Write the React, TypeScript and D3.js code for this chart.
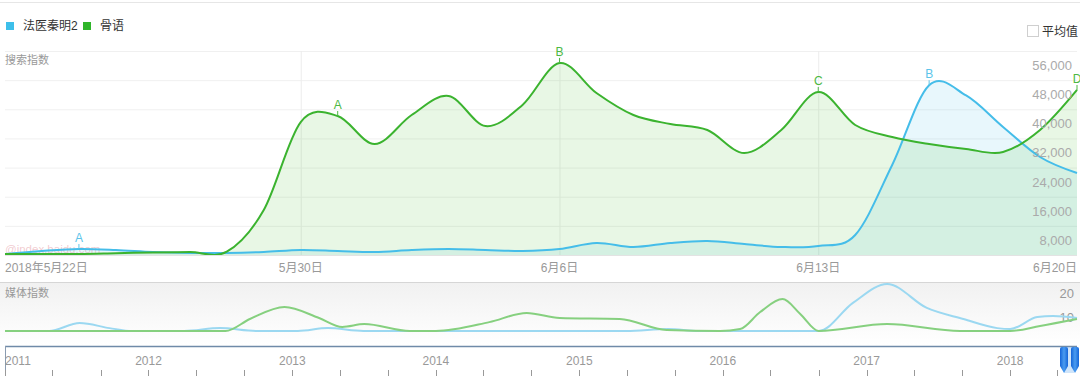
import React from 'react';
import * as d3 from 'd3';

// ---------- data ----------
const seriesNames = ['法医秦明2', '骨语'];
const dates = [
  '2018-05-22', '2018-05-23', '2018-05-24', '2018-05-25', '2018-05-26', '2018-05-27', '2018-05-28', '2018-05-29',
  '2018-05-30', '2018-05-31', '2018-06-01', '2018-06-02', '2018-06-03', '2018-06-04', '2018-06-05', '2018-06-06',
  '2018-06-07', '2018-06-08', '2018-06-09', '2018-06-10', '2018-06-11', '2018-06-12', '2018-06-13', '2018-06-14',
  '2018-06-15', '2018-06-16', '2018-06-17', '2018-06-18', '2018-06-19', '2018-06-20',
];
const searchBlue = [270, 1100, 1650, 1370, 820, 550, 550, 820, 1370, 1100, 820, 1370, 1650, 1370, 1100, 1650,
  3300, 2200, 3300, 3840, 3020, 2200, 2470, 5490, 24700, 46600, 43800, 35140, 26900, 22500];
const searchGreen = [300, 300, 300, 500, 700, 800, 900, 12350, 36500, 38150, 30470, 38430, 43650, 35400, 41200, 52700,
  44470, 38430, 35960, 34310, 28000, 34310, 44740, 35690, 32400, 30470, 29100, 28270, 34310, 45300];
const blueMarkers = [{ idx: 2, label: 'A' }, { idx: 25, label: 'B' }];
const greenMarkers = [{ idx: 9, label: 'A' }, { idx: 15, label: 'B' }, { idx: 22, label: 'C' }, { idx: 29, label: 'D' }];
const yTicks = [8000, 16000, 24000, 32000, 40000, 48000, 56000];
const xTickIdx = [0, 8, 15, 22, 29];
const xTickLabels = ['2018年5月22日', '5月30日', '6月6日', '6月13日', '6月20日'];

const mediaGreenDates = ['2011-01-01', '2011-07-01', '2012-01-01', '2012-07-15', '2012-09-15', '2012-12-12', '2013-03-10',
  '2013-05-08', '2013-07-03', '2013-10-27', '2014-01-01', '2014-05-17', '2014-08-20', '2014-11-12', '2015-04-14',
  '2015-08-11', '2015-12-25', '2016-02-14', '2016-04-05', '2016-06-01', '2016-07-16', '2016-09-01', '2017-02-22',
  '2017-08-27', '2018-01-01', '2018-03-18', '2018-06-20'];
const mediaGreen = [0, 0, 0, 0, 5, 10, 5.4, 1.7, 2.9, 0, 0, 3.7, 7.5, 5.4, 5, 0.4, 0, 0.8, 7.9, 13.3, 7.1, 0, 2.9, 0, 0, 2.1, 5];
const mediaBlueDates = ['2011-01-01', '2011-04-23', '2011-07-10', '2011-09-24', '2011-11-21', '2012-04-01', '2012-07-01',
  '2012-10-01', '2013-01-15', '2013-04-01', '2013-07-01', '2015-05-01', '2015-08-15', '2015-11-01', '2016-09-01',
  '2016-11-27', '2017-02-22', '2017-06-03', '2017-09-04', '2017-11-29', '2018-01-01', '2018-03-11', '2018-04-20',
  '2018-06-20'];
const mediaBlue = [0, 0, 3.3, 1.2, 0, 0, 1.2, 0, 0, 1.2, 0, 0, 0.8, 0, 0, 11.7, 19.6, 9.6, 5, 1.2, 0.8, 5.8, 6.2, 5.4];
const mediaTicks = [10, 20];
const timelineStart = '2011-01-01';
const timelineEnd = '2018-06-20';

// ---------- styles ----------
const FONT = "'Liberation Sans', Arial, 'Noto Sans CJK SC', sans-serif";
const BLUE = '#45bde9';
const GREEN = '#3bb32f';

export default function App() {
  const parse = d3.timeParse('%Y-%m-%d');
  const x = d3.scaleLinear().domain([0, dates.length - 1]).range([5, 1077]);
  const y = d3.scaleLinear().domain([0, 56000]).range([255, 51]);

  const line = d3.line<number>().x((_, i) => x(i)).y((d) => y(d)).curve(d3.curveCardinal.tension(0));
  const area = d3.area<number>().x((_, i) => x(i)).y0(255).y1((d) => y(d)).curve(d3.curveCardinal.tension(0));

  const tx = d3.scaleTime().domain([parse(timelineStart)!, parse(timelineEnd)!]).range([5, 1077]);
  const my = d3.scaleLinear().domain([0, 20]).range([331, 283]);
  const mline = d3.line<[Date, number]>().x((d) => tx(d[0])).y((d) => my(d[1])).curve(d3.curveMonotoneX);
  const mg: [Date, number][] = mediaGreenDates.map((d, i) => [parse(d)!, mediaGreen[i]]);
  const mb: [Date, number][] = mediaBlueDates.map((d, i) => [parse(d)!, mediaBlue[i]]);

  const years = d3.timeYear.range(parse('2011-01-01')!, parse(timelineEnd)!);
  const minor = d3.timeMonth.every(4)!.range(parse('2011-01-01')!, parse(timelineEnd)!);

  const marker = (arr: number[], m: { idx: number; label: string }, color: string, key: string) => {
    const px = x(m.idx);
    const py = y(arr[m.idx]);
    return (
      <g key={key}>
        <line x1={px} x2={px} y1={py} y2={py - 5} stroke={color} strokeWidth={1} />
        <text x={px} y={py - 7} textAnchor="middle" fontSize={12} fill={color} fontFamily={FONT}>{m.label}</text>
      </g>
    );
  };

  return (
    <svg width={1080} height={376} style={{ position: 'absolute', left: 0, top: 0, background: '#fff' }}>
      <defs>
        <clipPath id="plot"><rect x={5} y={40} width={1075} height={215} /></clipPath>
        <linearGradient id="mediaBg" x1="0" y1="0" x2="0" y2="1">
          <stop offset="0%" stopColor="#f1f1f1" />
          <stop offset="100%" stopColor="#ffffff" />
        </linearGradient>
        <linearGradient id="handle" x1="0" y1="0" x2="1" y2="0">
          <stop offset="0%" stopColor="#1565d8" />
          <stop offset="50%" stopColor="#4a9cf0" />
          <stop offset="100%" stopColor="#1565d8" />
        </linearGradient>
      </defs>
      <line x1={0} x2={1080} y1={2.5} y2={2.5} stroke="#e6e6e6" />

      {/* legend */}
      <rect x={6} y={22} width={8} height={8} fill="#3dbfea" />
      <text x={23} y={30} fontSize={12} fill="#333" fontFamily={FONT}>{seriesNames[0]}</text>
      <rect x={83} y={22} width={8} height={8} fill="#2fb52a" />
      <text x={100} y={30} fontSize={12} fill="#333" fontFamily={FONT}>{seriesNames[1]}</text>
      <rect x={1027.5} y={25.5} width={11} height={11} fill="#fff" stroke="#cfcfcf" />
      <text x={1042} y={36} fontSize={12} fill="#333" fontFamily={FONT}>平均值</text>

      {/* grid */}
      {yTicks.map((t) => (
        <line key={t} x1={5} x2={1077} y1={y(t) + 0.5} y2={y(t) + 0.5} stroke="#f0f0f0" />
      ))}
      {xTickIdx.slice(1, -1).map((i) => (
        <line key={i} x1={x(i) + 0.5} x2={x(i) + 0.5} y1={51} y2={255} stroke="#ececec" />
      ))}
      <text x={5} y={64} fontSize={11} fill="#999" fontFamily={FONT}>搜索指数</text>

      <g clipPath="url(#plot)">
        <path d={area(searchBlue)!} fill="rgba(75,192,235,0.13)" />
        <path d={area(searchGreen)!} fill="rgba(80,190,55,0.13)" />
      </g>
      <text x={5} y={253} fontSize={11.5} fill="rgba(225,140,150,0.45)" fontFamily={FONT}>@index.baidu.com</text>
      <g clipPath="url(#plot)">
        <path d={line(searchBlue)!} fill="none" stroke={BLUE} strokeWidth={2} />
        <path d={line(searchGreen)!} fill="none" stroke={GREEN} strokeWidth={2} />
      </g>
      {blueMarkers.map((m, i) => marker(searchBlue, m, '#5cc4ea', 'b' + i))}
      {greenMarkers.map((m, i) => marker(searchGreen, m, '#4cb843', 'g' + i))}

      {yTicks.map((t) => (
        <text key={t} x={1072} y={y(t) + 19} textAnchor="end" fontSize={13} fill="#aaa" fontFamily={FONT}>
          {d3.format(',')(t)}
        </text>
      ))}
      <line x1={5} x2={1077} y1={255.5} y2={255.5} stroke="#e3e3e3" />

      {xTickIdx.map((i, k) => (
        <text key={i} x={x(i)} y={272} textAnchor={k === 0 ? 'start' : k === xTickIdx.length - 1 ? 'end' : 'middle'}
          fontSize={12} fill="#999" fontFamily={FONT}>{xTickLabels[k]}</text>
      ))}

      {/* media panel */}
      <line x1={0} x2={1080} y1={282.5} y2={282.5} stroke="#d6d6d6" />
      <rect x={0} y={283} width={1080} height={62} fill="url(#mediaBg)" />
      <text x={5} y={297} fontSize={11} fill="#999" fontFamily={FONT}>媒体指数</text>
      {mediaTicks.map((t) => (
        <text key={t} x={1074} y={my(t) + 15} textAnchor="end" fontSize={13} fill="#999" fontFamily={FONT}>{t}</text>
      ))}
      <path d={mline(mb)!} fill="none" stroke="#9bd8f1" strokeWidth={2} />
      <path d={mline(mg)!} fill="none" stroke="#86d07f" strokeWidth={2} />

      {/* timeline */}
      <line x1={5} x2={1077} y1={346.5} y2={346.5} stroke="#6f8aa8" strokeWidth={1.5} />
      <line x1={5.5} x2={5.5} y1={346} y2={376} stroke="#8a9bb0" />
      {minor.map((d, i) => (
        <line key={i} x1={Math.round(tx(d)) + 0.5} x2={Math.round(tx(d)) + 0.5} y1={370} y2={376} stroke="#999" />
      ))}
      {years.map((d, i) => (
        <text key={i} x={tx(d)} y={365} textAnchor={i === 0 ? 'start' : 'middle'} fontSize={12} fill="#999" fontFamily={FONT}>
          {d3.timeFormat('%Y')(d)}
        </text>
      ))}
      <rect x={1064} y={347} width={10} height={26} fill="rgba(120,180,240,0.35)" />
      {[1064, 1075].map((hx) => (
        <path key={hx} d={`M${hx - 4},349 q0,-2 2,-2 h4 q2,0 2,2 v17 l-4,7 l-4,-7 z`} fill="url(#handle)" />
      ))}
    </svg>
  );
}
